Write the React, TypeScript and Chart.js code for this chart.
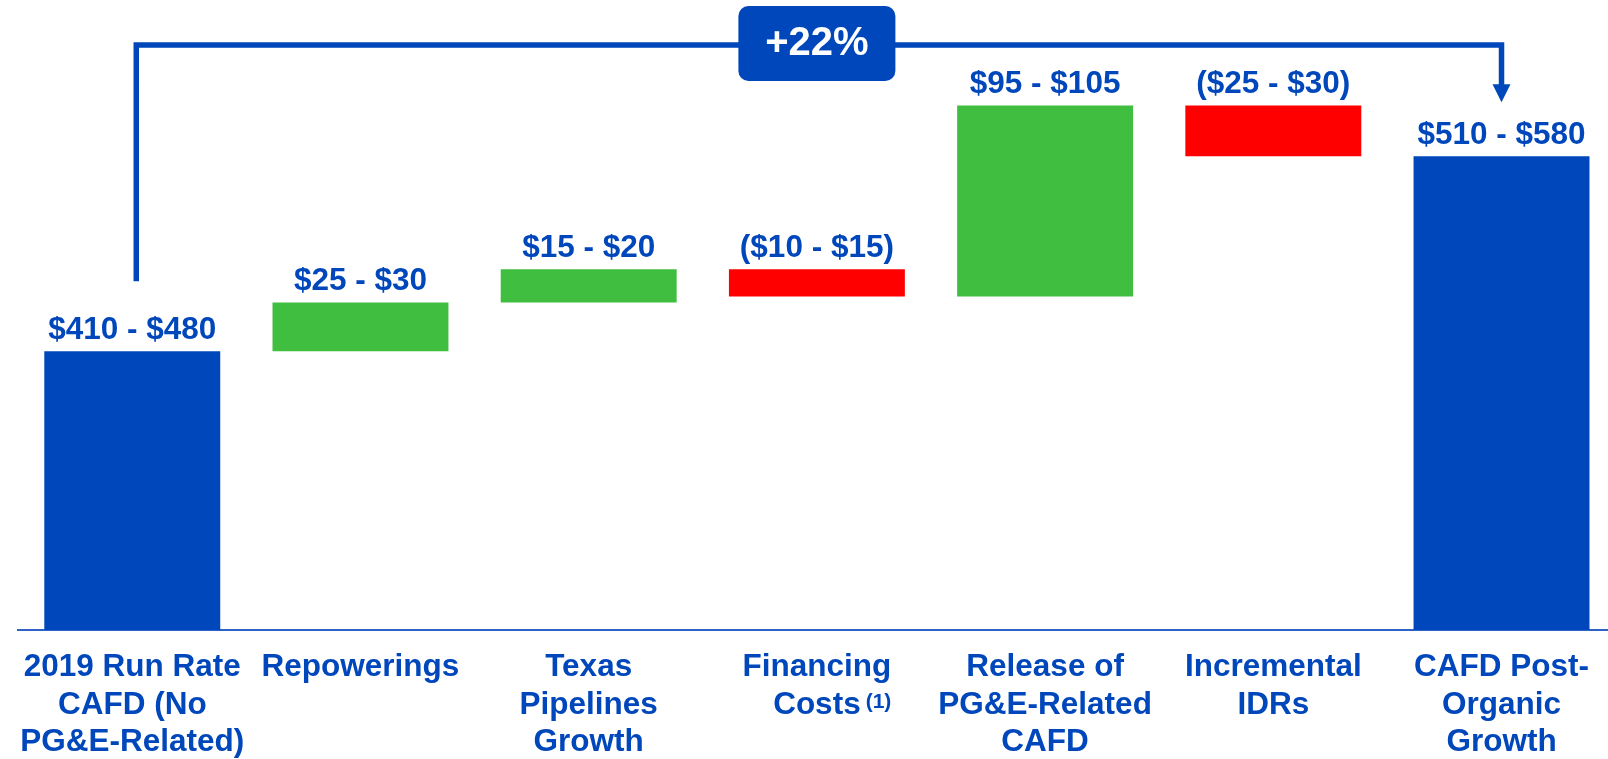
import React, { useEffect, useRef } from "react";
import { Chart, registerables } from "chart.js";

Chart.register(...registerables);

// ---- data ----
const categories: string[][] = [
  ["2019 Run Rate", "CAFD (No", "PG&E-Related)"],
  ["Repowerings"],
  ["Texas", "Pipelines", "Growth"],
  ["Financing", "Costs"],
  ["Release of", "PG&E-Related", "CAFD"],
  ["Incremental", "IDRs"],
  ["CAFD Post-", "Organic", "Growth"],
];
const rangeLabels = [
  "$410 - $480",
  "$25 - $30",
  "$15 - $20",
  "($10 - $15)",
  "$95 - $105",
  "($25 - $30)",
  "$510 - $580",
];
// floating bar start / end (midpoint-style values)
const barStart = [302, 445, 470, 487, 473, 571, 302];
const barEnd = [445, 470, 487, 473, 571, 545, 545];
const barKinds = ["total", "up", "up", "down", "up", "down", "total"];
const growthLabel = "+22%";
const footnote = "(1)";
const footnoteIndex = 3;

const BLUE = "#0047BB";
const GREEN = "#40BE40";
const RED = "#FF0000";
const FONT = '"Liberation Sans", Arial, Helvetica, sans-serif';

const kindColor = (k: string) => (k === "total" ? BLUE : k === "up" ? GREEN : RED);

const overlayPlugin = {
  id: "overlay",
  afterDraw(chart: any) {
    const ctx = chart.ctx as CanvasRenderingContext2D;
    const meta = chart.getDatasetMeta(0);
    const xs = chart.scales.x;
    const area = chart.chartArea;
    ctx.save();
    // value labels
    ctx.font = `bold 31.5px ${FONT}`;
    ctx.fillStyle = BLUE;
    ctx.textAlign = "center";
    ctx.textBaseline = "alphabetic";
    meta.data.forEach((el: any, i: number) => {
      const top = Math.min(el.y, el.base);
      ctx.fillText(rangeLabels[i], el.x, top - 12);
    });

    // bracket
    const first = meta.data[0];
    const last = meta.data[meta.data.length - 1];
    const x0 = first.x + 4;
    const x1 = last.x;
    const yLine = area.top + 39;
    const yLeftBottom = Math.min(first.y, first.base) - 70;
    const tipY = Math.min(last.y, last.base) - 54;
    ctx.strokeStyle = BLUE;
    ctx.lineWidth = 5.5;
    ctx.lineJoin = "miter";
    ctx.lineCap = "butt";
    ctx.beginPath();
    ctx.moveTo(x0, yLeftBottom);
    ctx.lineTo(x0, yLine);
    ctx.lineTo(x1, yLine);
    ctx.lineTo(x1, tipY - 17);
    ctx.stroke();
    ctx.fillStyle = BLUE;
    ctx.beginPath();
    ctx.moveTo(x1 - 9, tipY - 18);
    ctx.lineTo(x1 + 9, tipY - 18);
    ctx.lineTo(x1, tipY);
    ctx.closePath();
    ctx.fill();

    // +22% box
    const bx = xs.getPixelForValue(3);
    const bw = 157;
    const bh = 75;
    const btop = area.top;
    ctx.beginPath();
    (ctx as any).roundRect(bx - bw / 2, btop, bw, bh, 10);
    ctx.fill();
    ctx.fillStyle = "#FFFFFF";
    ctx.font = `bold 40px ${FONT}`;
    ctx.textAlign = "center";
    ctx.fillText(growthLabel, bx, btop + 49);

    // footnote superscript
    ctx.font = `bold 31.5px ${FONT}`;
    const cw = ctx.measureText(categories[footnoteIndex][1]).width;
    const fx = xs.getPixelForValue(footnoteIndex) + cw / 2 + 5;
    ctx.font = `bold 21px ${FONT}`;
    ctx.fillStyle = BLUE;
    ctx.textAlign = "left";
    ctx.fillText(footnote, fx, area.bottom + 78);
    ctx.restore();
  },
};

export default function App() {
  const ref = useRef<HTMLCanvasElement | null>(null);
  useEffect(() => {
    document.body.style.margin = "0";
    document.body.style.overflow = "hidden";
    if (!ref.current) return;
    const chart = new Chart(ref.current, {
      type: "bar",
      data: {
        datasets: [
          {
            data: categories.map((_, i) =>
              barKinds[i] === "total"
                ? { x: i, y: barEnd[i] }
                : { x: i, y: [barStart[i], barEnd[i]] }
            ) as any,
            backgroundColor: barKinds.map(kindColor),
            borderWidth: 0,
            categoryPercentage: 1,
            barPercentage: 0.771,
          },
        ],
      },
      options: {
        animation: false,
        responsive: true,
        maintainAspectRatio: false,
        layout: { padding: { top: 6, left: 18, right: 0, bottom: 0 } },
        plugins: {
          legend: { display: false },
          tooltip: { enabled: false },
          title: { display: false },
        },
        scales: {
          x: {
            type: "linear",
            min: -0.5,
            max: 6.464,
            offset: false,
            grid: { display: false, drawTicks: false, offset: false },
            border: { display: true, color: "#2F62C8", width: 2 },
            afterBuildTicks: (scale: any) => {
              scale.ticks = categories.map((_, i) => ({ value: i }));
            },
            afterFit: (scale: any) => {
              scale.height = 129;
            },
            ticks: {
              autoSkip: false,
              maxRotation: 0,
              minRotation: 0,
              padding: 19,
              color: BLUE,
              font: { family: FONT, size: 31.5, weight: "bold", lineHeight: 1.19 },
              callback: (v: any) => categories[Math.round(Number(v))] ?? "",
            },
          },
          y: {
            display: false,
            min: 302,
            max: 622,
            beginAtZero: false,
          },
        },
      },
      plugins: [overlayPlugin],
    });
    return () => chart.destroy();
  }, []);
  return (
    <div style={{ width: 1608, height: 759, position: "relative" }}>
      <canvas ref={ref} />
    </div>
  );
}
